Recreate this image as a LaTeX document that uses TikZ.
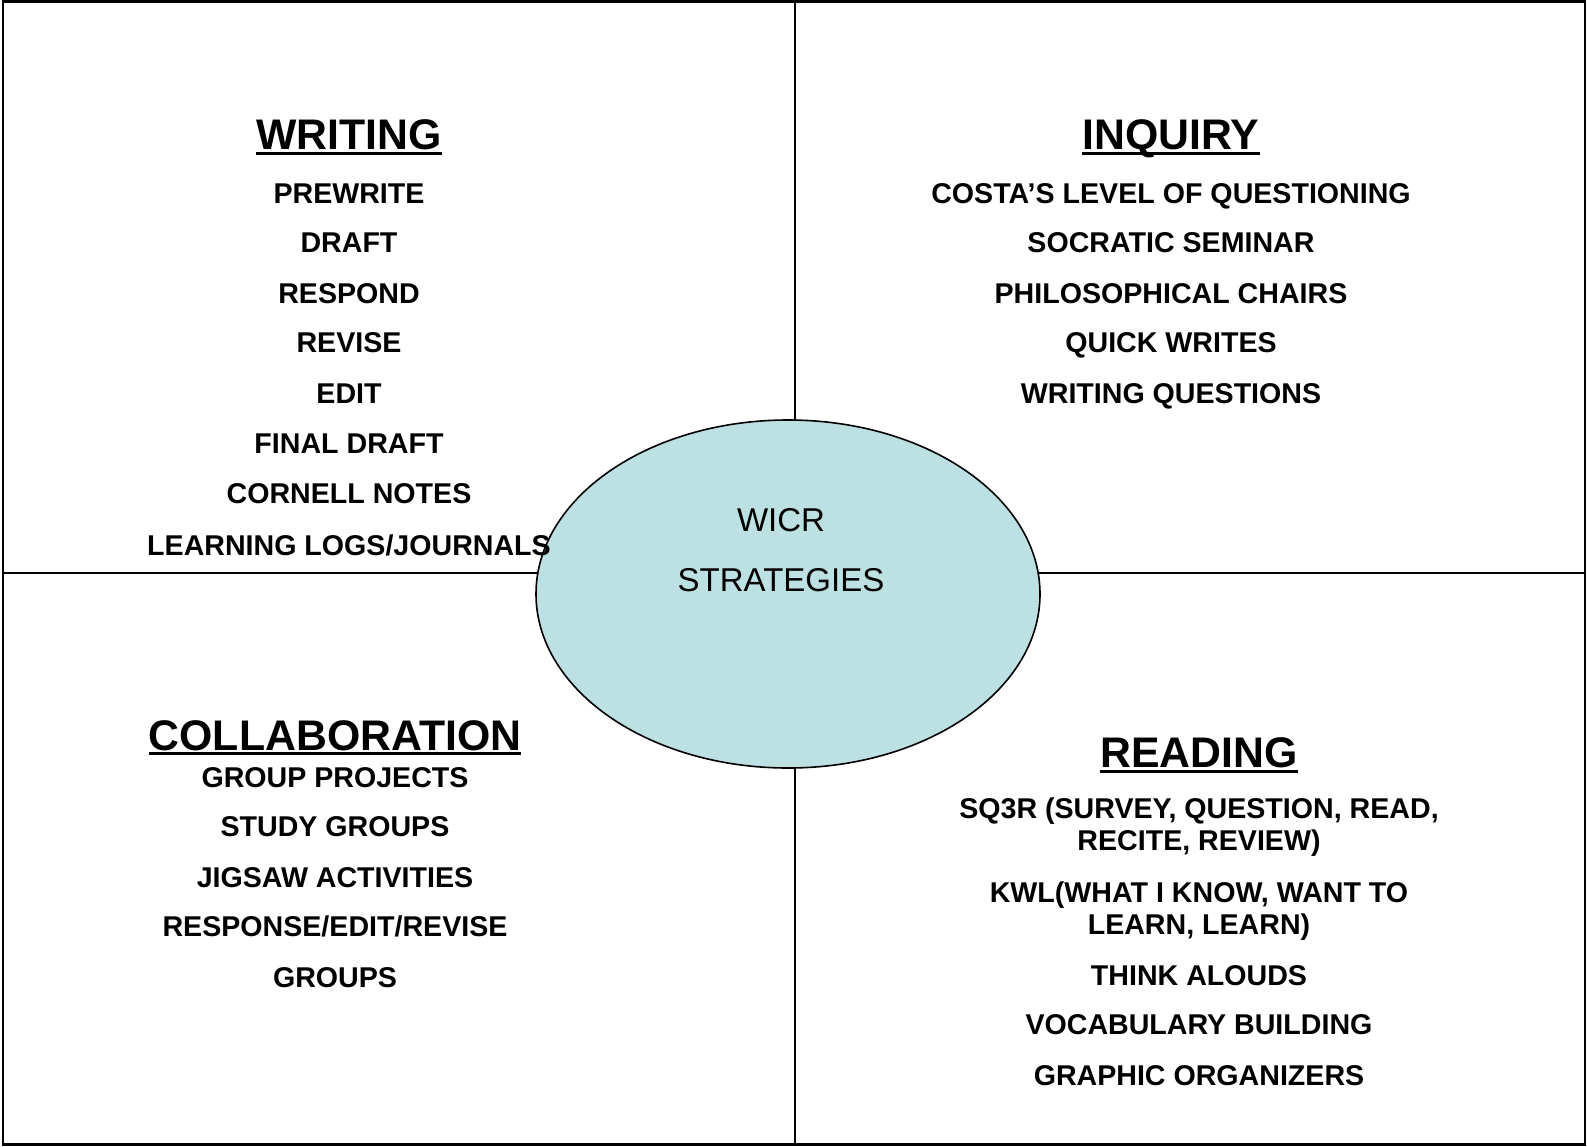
\documentclass[tikz,border=0pt]{standalone}
\usepackage{fontspec}
\setmainfont{Liberation Sans}
\usetikzlibrary{shapes.geometric}
\definecolor{ellfill}{RGB}{189,224,226}
\tikzset{
  item/.style={anchor=base, inner sep=0pt, font=\fontsize{28.6}{32}\selectfont\bfseries},
  head/.style={anchor=base, inner sep=0pt, font=\fontsize{42.8}{48}\selectfont\bfseries},
  centertext/.style={anchor=base, inner sep=0pt, font=\fontsize{33}{38}\selectfont},
  ul/.style={line width=3pt},
  divider/.style={line width=2pt},
  frame/.style={line width=2.2pt}
}
\begin{document}
\begin{tikzpicture}[x=1pt,y=-1pt]
\useasboundingbox (0,0) rectangle (1587,1146);
\fill[white] (0,0) rectangle (1587,1146);
% frame and dividers
\coordinate (tl) at (3,1.5);
\coordinate (br) at (1585,1144.5);
\draw[frame] (tl) rectangle (br);
\coordinate (vtop) at (795.4,1.5);
\coordinate (vbot) at (795.4,1144.5);
\coordinate (hl) at (3,573.3);
\coordinate (hr) at (1585,573.3);
\draw[divider] (vtop) -- (vbot);
\draw[divider] (hl) -- (hr);
% ellipse
\node[ellipse, draw, line width=1.6pt, fill=ellfill, minimum width=504pt, minimum height=348pt, inner sep=0pt] (ell) at (788,594) {};
\node[centertext] (wicr) at (781,531) {WICR};
\node[centertext] (strat) at (781,591) {STRATEGIES};
% WRITING
\node[head] (hw) at (349,149) {WRITING};
\draw[ul] ([yshift=-4pt]hw.base west) -- ([yshift=-4pt]hw.base east);
\node[item] (w1) at (349,203) {PREWRITE};
\node[item] (w2) at (349,252.5) {DRAFT};
\node[item] (w3) at (349,303) {RESPOND};
\node[item] (w4) at (349,352) {REVISE};
\node[item] (w5) at (349,403) {EDIT};
\node[item] (w6) at (349,453.5) {FINAL DRAFT};
\node[item] (w7) at (349,503.5) {CORNELL NOTES};
\node[item] (w8) at (349,555) {LEARNING LOGS/JOURNALS};
% INQUIRY
\node[head] (hi) at (1171,149.5) {INQUIRY};
\draw[ul] ([yshift=-4pt]hi.base west) -- ([yshift=-4pt]hi.base east);
\node[item] (i1) at (1171,203) {COSTA’S LEVEL OF QUESTIONING};
\node[item] (i2) at (1171,252.5) {SOCRATIC SEMINAR};
\node[item] (i3) at (1171,303) {PHILOSOPHICAL CHAIRS};
\node[item] (i4) at (1171,352.5) {QUICK WRITES};
\node[item] (i5) at (1171,403) {WRITING QUESTIONS};
% COLLABORATION
\node[head] (hc) at (335,750) {COLLABORATION};
\draw[ul] ([yshift=-3.5pt]hc.base west) -- ([yshift=-3.5pt]hc.base east);
\node[item] (c1) at (335,787) {GROUP PROJECTS};
\node[item] (c2) at (335,836.5) {STUDY GROUPS};
\node[item] (c3) at (335,887) {JIGSAW ACTIVITIES};
\node[item] (c4) at (335,936.5) {RESPONSE/EDIT/REVISE};
\node[item] (c5) at (335,987) {GROUPS};
% READING
\node[head] (hr2) at (1199,767) {READING};
\draw[ul] ([yshift=-4pt]hr2.base west) -- ([yshift=-4pt]hr2.base east);
\node[item] (r1) at (1199,818) {SQ3R (SURVEY, QUESTION, READ,};
\node[item] (r1b) at (1199,850) {RECITE, REVIEW)};
\node[item] (r2) at (1199,902) {KWL(WHAT I KNOW, WANT TO};
\node[item] (r2b) at (1199,934) {LEARN, LEARN)};
\node[item] (r3) at (1199,985) {THINK ALOUDS};
\node[item] (r4) at (1199,1034) {VOCABULARY BUILDING};
\node[item] (r5) at (1199,1085) {GRAPHIC ORGANIZERS};
\end{tikzpicture}
\end{document}
